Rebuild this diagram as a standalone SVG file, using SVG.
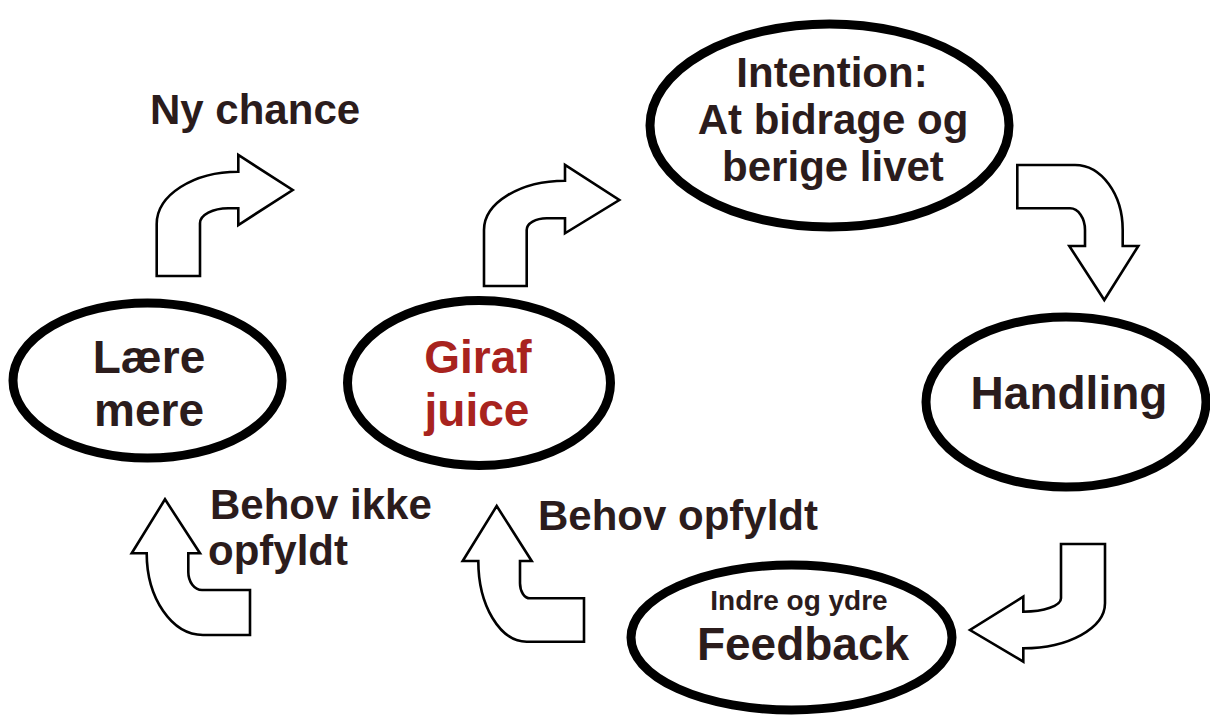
<svg xmlns="http://www.w3.org/2000/svg" width="1210" height="724" viewBox="0 0 1210 724">
<style>
.node{fill:#fff;stroke:#000;stroke-width:9}
.arrow{fill:#fff;stroke:#000;stroke-width:2.6;stroke-linejoin:miter}
.t{font-family:"Liberation Sans",Arial,sans-serif;font-weight:bold;fill:#2b1c1c}
.c{text-anchor:middle}
.red{fill:#a8231e}
</style>
<rect width="1210" height="724" fill="#fff"/>
<g id="connectors">
<path class="arrow" d="M156.7,276 L200,276 L200,223.3 C200,215 212.7,208.3 228.3,208.3 L238.3,208.3 L238.3,225 L292.7,190 L238.3,155 L238.3,171.7 C193.3,171.7 156.7,195.1 156.7,224 Z"/>
<path class="arrow" d="M484,286 L526.7,286 L526.7,230 C526.7,223.5 535.7,218.3 546.7,218.3 L565,218.3 L565,233.3 L619.3,200 L565,165 L565,180.7 C520.3,180.7 484,202.8 484,230 Z"/>
<path class="arrow" d="M1017.3,165 L1017.3,208.3 L1070,208.3 C1078.3,208.3 1085,218 1085,230 L1085,246 L1069.3,246 L1104.3,300 L1138.3,246 L1122.7,246 L1122.7,230 C1122.7,194.1 1101.3,165 1075,165 Z"/>
<path class="arrow" d="M1061,544 L1105,544 L1105,603.3 C1105,628.1 1068.4,648.3 1023.3,648.3 L1023.3,661.7 L970,630 L1023.3,596.7 L1023.3,611.7 C1044.1,611.7 1061,605.7 1061,598.3 Z"/>
<path class="arrow" d="M165,499.3 L200,553.3 L188.3,553.3 L188.3,572 C188.3,581.9 194.4,590 202,590 L250,590 L250,635 L203,635 C171.9,635 146.7,598.4 146.7,553.3 L131.7,553.3 Z"/>
<path class="arrow" d="M496.7,506 L531.7,561 L520,561 L520,583.3 C520,591.6 524.5,598.3 530,598.3 L584,598.3 L584,641.7 L526.7,641.7 C500,641.7 478.3,605.5 478.3,561 L462.7,561 Z"/>
</g>
<g id="node-laere">
<ellipse class="node" cx="147.5" cy="380.5" rx="134.5" ry="77.5"/>
<text class="t c" x="149" y="373" font-size="46">Lære</text>
<text class="t c" x="149" y="426" font-size="46">mere</text>
</g>
<g id="node-giraf">
<ellipse class="node" cx="479" cy="383" rx="131.5" ry="82.5"/>
<text class="t c red" x="478" y="373" font-size="46">Giraf</text>
<text class="t c red" x="477" y="426" font-size="46">juice</text>
</g>
<g id="node-intention">
<ellipse class="node" cx="829.5" cy="125.5" rx="179.5" ry="101.5"/>
<text class="t c" x="832" y="87" font-size="42">Intention:</text>
<text class="t c" x="833" y="134" font-size="42">At bidrage og</text>
<text class="t c" x="833" y="181" font-size="42">berige livet</text>
</g>
<g id="node-handling">
<ellipse class="node" cx="1066" cy="402" rx="140" ry="85"/>
<text class="t c" x="1069" y="409" font-size="46">Handling</text>
</g>
<g id="node-feedback">
<ellipse class="node" cx="791.5" cy="637.5" rx="160.5" ry="72.5"/>
<text class="t c" x="799" y="610" font-size="28">Indre og ydre</text>
<text class="t c" x="803" y="660" font-size="46">Feedback</text>
</g>
<g id="labels">
<text class="t" x="150" y="124" font-size="42">Ny chance</text>
<text class="t" x="210" y="519" font-size="42">Behov ikke</text>
<text class="t" x="208" y="565" font-size="42">opfyldt</text>
<text class="t" x="538" y="530" font-size="42">Behov opfyldt</text>
</g>
</svg>
